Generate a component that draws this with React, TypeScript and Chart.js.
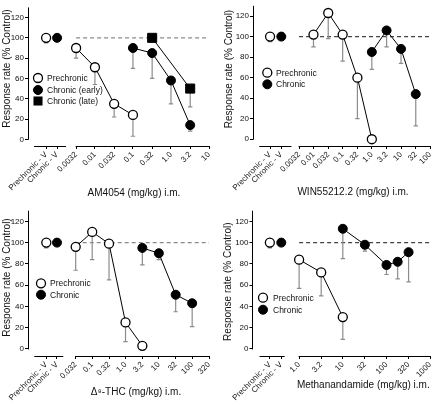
import React, { useEffect, useRef } from 'react';
import { Chart, registerables } from 'chart.js';
Chart.register(...registerables);

const FONT = '"Liberation Sans", Arial, sans-serif';

// ---------- Panel 1: AM4054 ----------
const amTickDoses = [0.0032, 0.01, 0.032, 0.1, 0.32, 1.0, 3.2, 10];
const amTickLabels = ['0.0032', '0.01', '0.032', '0.1', '0.32', '1.0', '3.2', '10'];
const amVehMean = [100, 100];
const amVehLow = [95, null];
const amPreDose = [0.0032, 0.01, 0.032, 0.1];
const amPreMean = [90, 71, 35, 24];
const amPreLow = [80, 54, 22, 3];
const amEarlyDose = [0.1, 0.32, 1.0, 3.2];
const amEarlyMean = [90, 85, 58, 14];
const amEarlyLow = [70, 60, 35, 8];
const amLateDose = [0.32, 3.2];
const amLateMean = [100, 50];
const amLateLow = [null, 32];

// ---------- Panel 2: WIN55212.2 ----------
const winTickDoses = [0.0032, 0.01, 0.032, 0.1, 0.32, 1.0, 3.2, 10, 32, 100];
const winTickLabels = ['0.0032', '0.01', '0.032', '0.1', '0.32', '1.0', '3.2', '10', '32', '100'];
const winVehMean = [100, 100];
const winVehLow = [95, null];
const winPreDose = [0.01, 0.032, 0.1, 0.32, 1.0];
const winPreMean = [102, 123, 102, 60, 0];
const winPreLow = [90, 98, 76, 20, null];
const winChrDose = [1.0, 3.2, 10, 32];
const winChrMean = [85, 106, 88, 44];
const winChrLow = [68, 90, 74, 13];

// ---------- Panel 3: Δ9-THC ----------
const thcTickDoses = [0.032, 0.1, 0.32, 1.0, 3.2, 10, 32, 100, 320];
const thcTickLabels = ['0.032', '0.1', '0.32', '1.0', '3.2', '10', '32', '100', '320'];
const thcVehMean = [100, 100];
const thcVehLow = [95, null];
const thcPreDose = [0.032, 0.1, 0.32, 1.0, 3.2];
const thcPreMean = [96, 110, 99, 25, 3];
const thcPreLow = [74, 84, 65, 7, null];
const thcChrDose = [3.2, 10, 32, 100];
const thcChrMean = [95, 90, 51, 43];
const thcChrLow = [79, 84, 35, 21];

// ---------- Panel 4: Methanandamide ----------
const mTickDoses = [1.0, 3.2, 10, 32, 100, 320, 1000];
const mTickLabels = ['1.0', '3.2', '10', '32', '100', '320', '1000'];
const mVehMean = [100, 100];
const mVehLow = [95, null];
const mPreDose = [1.0, 3.2, 10];
const mPreMean = [84, 72, 30];
const mPreLow = [57, 50, 9];
const mChrDose = [10, 32, 100, 180, 320];
const mChrMean = [113, 98, 79, 82, 91];
const mChrLow = [85, 92, 70, 66, 63];

const yTicks = [0, 20, 40, 60, 80, 100, 120];
const vehLabels = ['Prechronic - V', 'Chronic - V'];
const yTitle = 'Response rate (% Control)';

type Series = { label: string; kind: 'open' | 'filled' | 'square'; dose: number[]; mean: number[]; low: (number | null)[] };

const panels = [
  {
    pos: { left: 0, top: 0, w: 218, h: 218 },
    area: { l: 28, r: 209, t: 1.4, b: 146 },
    xMin: -3.76, xMax: 1.0,
    vehX: [-3.284, -2.995], seg: [-3.6, -2.758],
    tickDoses: amTickDoses, tickLabels: amTickLabels,
    vehMean: amVehMean, vehLow: amVehLow,
    series: [
      { label: 'Prechronic', kind: 'open', dose: amPreDose, mean: amPreMean, low: amPreLow },
      { label: 'Chronic (early)', kind: 'filled', dose: amEarlyDose, mean: amEarlyMean, low: amEarlyLow },
      { label: 'Chronic (late)', kind: 'square', dose: amLateDose, mean: amLateMean, low: amLateLow },
    ] as Series[],
    legend: { x: 38, text: 47, ys: [78, 90, 101] },
    xTitle: 'AM4054 (mg/kg) i.m.', xTitlePos: [134, 193], yTitlePos: [7, 68.5],
    dashColor: '#8a8a8a',
  },
  {
    pos: { left: 218, top: 0, w: 218, h: 218 },
    area: { l: 35, r: 215, t: 1.4, b: 146 },
    xMin: -4.073, xMax: 2.0,
    vehX: [-3.488, -3.103], seg: [-3.86, -2.755],
    tickDoses: winTickDoses, tickLabels: winTickLabels,
    vehMean: winVehMean, vehLow: winVehLow,
    series: [
      { label: 'Prechronic', kind: 'open', dose: winPreDose, mean: winPreMean, low: winPreLow },
      { label: 'Chronic', kind: 'filled', dose: winChrDose, mean: winChrMean, low: winChrLow },
    ] as Series[],
    legend: { x: 49.3, text: 58, ys: [72.7, 84.3] },
    xTitle: 'WIN55212.2 (mg/kg) i.m.', xTitlePos: [135, 192.7], yTitlePos: [11, 69],
    dashColor: '#444',
  },
  {
    pos: { left: 0, top: 200, w: 218, h: 203 },
    area: { l: 28, r: 209, t: 10.7, b: 156 },
    xMin: -2.926, xMax: 2.505,
    vehX: [-2.377, -2.056], seg: [-2.737, -1.867],
    tickDoses: thcTickDoses, tickLabels: thcTickLabels,
    vehMean: thcVehMean, vehLow: thcVehLow,
    series: [
      { label: 'Prechronic', kind: 'open', dose: thcPreDose, mean: thcPreMean, low: thcPreLow },
      { label: 'Chronic', kind: 'filled', dose: thcChrDose, mean: thcChrMean, low: thcChrLow },
    ] as Series[],
    legend: { x: 41, text: 50, ys: [83.3, 94.7] },
    xTitle: 'Δ⁹-THC (mg/kg) i.m.', xTitlePos: [136, 192], yTitlePos: [7, 77.5],
    dashColor: '#8a8a8a',
  },
  {
    pos: { left: 218, top: 200, w: 218, h: 203 },
    area: { l: 34.5, r: 216.7, t: 10.7, b: 156 },
    xMin: -1.067, xMax: 3.0,
    vehX: [-0.67, -0.408], seg: [-0.906, -0.33],
    tickDoses: mTickDoses, tickLabels: mTickLabels,
    vehMean: mVehMean, vehLow: mVehLow,
    series: [
      { label: 'Prechronic', kind: 'open', dose: mPreDose, mean: mPreMean, low: mPreLow },
      { label: 'Chronic', kind: 'filled', dose: mChrDose, mean: mChrMean, low: mChrLow },
    ] as Series[],
    legend: { x: 45, text: 55, ys: [97.7, 109.7] },
    xTitle: 'Methanandamide (mg/kg) i.m.', xTitlePos: [145.3, 185], yTitlePos: [10, 81.7],
    dashColor: '#444',
  },
];

function styleFor(kind: string) {
  if (kind === 'open') return { pointStyle: 'circle', pointRadius: 4.5, pointBackgroundColor: '#fff', pointBorderColor: '#000', pointBorderWidth: 1.3 };
  if (kind === 'square') return { pointStyle: 'rect', pointRadius: 6.4, pointBackgroundColor: '#000', pointBorderColor: '#000', pointBorderWidth: 1 };
  return { pointStyle: 'circle', pointRadius: 4.5, pointBackgroundColor: '#000', pointBorderColor: '#000', pointBorderWidth: 1 };
}

function drawMarker(ctx: CanvasRenderingContext2D, kind: string, x: number, y: number) {
  ctx.save();
  ctx.beginPath();
  if (kind === 'square') {
    const s = 6.4 * Math.SQRT1_2;
    ctx.rect(x - s, y - s, 2 * s, 2 * s);
    ctx.fillStyle = '#000';
    ctx.fill();
  } else {
    ctx.arc(x, y, 4.5, 0, Math.PI * 2);
    ctx.fillStyle = kind === 'open' ? '#fff' : '#000';
    ctx.fill();
    ctx.lineWidth = kind === 'open' ? 1.3 : 1;
    ctx.strokeStyle = '#000';
    ctx.stroke();
  }
  ctx.restore();
}

const al = (p: number) => Math.round(p - 0.5) + 0.5;

function makeConfig(p: any): any {
  const datasets: any[] = [];
  // vehicle points
  datasets.push({
    data: [{ x: p.vehX[0], y: p.vehMean[0] }], showLine: false, errLow: [p.vehLow[0]], ...styleFor('open'),
  });
  datasets.push({
    data: [{ x: p.vehX[1], y: p.vehMean[1] }], showLine: false, errLow: [p.vehLow[1]], ...styleFor('filled'),
  });
  p.series.forEach((s: Series) => {
    datasets.push({
      label: s.label,
      data: s.dose.map((d, i) => ({ x: Math.log10(d), y: s.mean[i] })),
      errLow: s.low,
      borderColor: '#000', borderWidth: 1, showLine: true, tension: 0,
      ...styleFor(s.kind),
    });
  });
  const tickVals = [...p.vehX, ...p.tickDoses.map((d: number) => Math.log10(d))];
  const tickLabs = [...vehLabels, ...p.tickLabels];
  const firstX = Math.log10(p.tickDoses[0]);
  const lastX = Math.log10(p.tickDoses[p.tickDoses.length - 1]);

  const deco = {
    id: 'deco',
    beforeDatasetsDraw(chart: any) {
      const { ctx, chartArea } = chart;
      const xs = chart.scales.x, ys = chart.scales.y;
      ctx.save();
      ctx.strokeStyle = '#000';
      ctx.lineWidth = 1;
      // y axis line
      const yx = al(chartArea.left);
      ctx.beginPath();
      ctx.moveTo(yx, ys.getPixelForValue(0) + 0.5);
      ctx.lineTo(yx, chartArea.top);
      ctx.stroke();
      // x axis segments
      const by = al(chartArea.bottom);
      ctx.beginPath();
      ctx.moveTo(xs.getPixelForValue(p.seg[0]), by);
      ctx.lineTo(xs.getPixelForValue(p.seg[1]), by);
      ctx.moveTo(xs.getPixelForValue(firstX) - 0.5, by);
      ctx.lineTo(xs.getPixelForValue(lastX) + 0.5, by);
      ctx.stroke();
      // dashed reference at 100
      ctx.beginPath();
      ctx.setLineDash([4, 3]);
      ctx.strokeStyle = p.dashColor;
      ctx.lineWidth = 1.2;
      const y100 = ys.getPixelForValue(100);
      ctx.moveTo(xs.getPixelForValue(firstX), y100);
      ctx.lineTo(xs.getPixelForValue(lastX), y100);
      ctx.stroke();
      ctx.setLineDash([]);
      // error bars
      ctx.strokeStyle = '#8c8c8c';
      ctx.lineWidth = 1.2;
      chart.data.datasets.forEach((ds: any, di: number) => {
        const meta = chart.getDatasetMeta(di);
        (ds.errLow || []).forEach((lo: number | null, i: number) => {
          if (lo === null || lo === undefined) return;
          const pt = meta.data[i];
          if (!pt) return;
          const y2 = ys.getPixelForValue(lo);
          ctx.beginPath();
          ctx.moveTo(pt.x, pt.y);
          ctx.lineTo(pt.x, y2);
          ctx.moveTo(pt.x - 2.2, y2);
          ctx.lineTo(pt.x + 2.2, y2);
          ctx.stroke();
        });
      });
      ctx.restore();
    },
    afterDraw(chart: any) {
      const { ctx } = chart;
      ctx.save();
      // legend
      p.series.forEach((s: Series, i: number) => {
        drawMarker(ctx, s.kind, p.legend.x, p.legend.ys[i]);
        ctx.fillStyle = '#111';
        ctx.font = `8.5px ${FONT}`;
        ctx.textAlign = 'left';
        ctx.textBaseline = 'middle';
        ctx.fillText(s.label, p.legend.text, p.legend.ys[i] + 0.5);
      });
      // x title
      ctx.font = `10px ${FONT}`;
      ctx.fillStyle = '#111';
      ctx.textAlign = 'center';
      ctx.textBaseline = 'middle';
      ctx.fillText(p.xTitle, p.xTitlePos[0], p.xTitlePos[1]);
      // y title
      ctx.translate(p.yTitlePos[0], p.yTitlePos[1]);
      ctx.rotate(-Math.PI / 2);
      ctx.fillText(yTitle, 0, 0);
      ctx.restore();
    },
  };

  return {
    type: 'line',
    data: { datasets },
    options: {
      animation: false,
      responsive: false,
      devicePixelRatio: 1,
      events: [],
      layout: { padding: { left: 0, top: p.area.t, right: p.pos.w - p.area.r, bottom: 0 } },
      plugins: { legend: { display: false }, tooltip: { enabled: false }, title: { display: false } },
      elements: { line: { tension: 0 } },
      datasets: { line: { clip: false } },
      scales: {
        x: {
          type: 'linear', min: p.xMin, max: p.xMax,
          afterBuildTicks: (s: any) => { s.ticks = tickVals.map((v: number) => ({ value: v })); },
          afterFit: (s: any) => { s.height = p.pos.h - p.area.b; s.paddingLeft = 0; s.paddingRight = 0; },
          ticks: {
            autoSkip: false, minRotation: 45, maxRotation: 45, padding: 1,
            font: { size: 8, family: FONT }, color: '#111',
            callback: (_v: any, i: number) => tickLabs[i],
          },
          grid: { drawOnChartArea: false, drawTicks: true, tickLength: 3, color: '#000', lineWidth: 1 },
          border: { display: false },
        },
        y: {
          type: 'linear', min: -6.6, max: 130,
          afterBuildTicks: (s: any) => { s.ticks = yTicks.map((v) => ({ value: v })); },
          afterFit: (s: any) => { s.width = p.area.l; s.paddingTop = 0; s.paddingBottom = 0; },
          ticks: { padding: 1, font: { size: 8, family: FONT }, color: '#111' },
          grid: { drawOnChartArea: false, drawTicks: true, tickLength: 3, color: '#000', lineWidth: 1 },
          border: { display: false },
        },
      },
    },
    plugins: [deco],
  };
}

function Panel({ p }: { p: any }) {
  const ref = useRef<HTMLCanvasElement>(null);
  useEffect(() => {
    if (!ref.current) return;
    const chart = new Chart(ref.current, makeConfig(p));
    return () => chart.destroy();
  }, [p]);
  return (
    <canvas
      ref={ref}
      width={p.pos.w}
      height={p.pos.h}
      style={{ position: 'absolute', left: p.pos.left, top: p.pos.top, width: p.pos.w, height: p.pos.h }}
    />
  );
}

export default function App() {
  return (
    <div style={{ position: 'absolute', left: 0, top: 0, width: 436, height: 403, background: '#fff', overflow: 'hidden' }}>
      {panels.map((p, i) => (
        <Panel key={i} p={p} />
      ))}
    </div>
  );
}
